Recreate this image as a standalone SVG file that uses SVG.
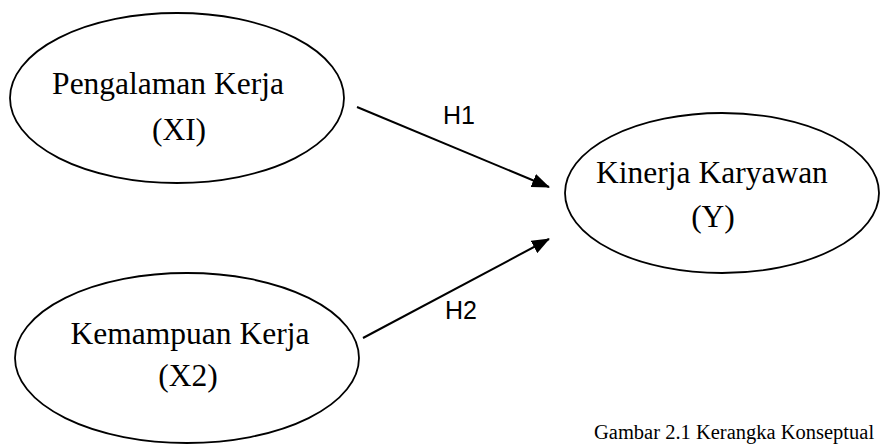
<svg xmlns="http://www.w3.org/2000/svg" width="880" height="445" viewBox="0 0 880 445">
<style>
  .node ellipse { fill: #ffffff; stroke: #000000; stroke-width: 1.8; }
  .lbl { font-family: "Liberation Serif", "Times New Roman", serif; font-size: 31.5px; fill: #000000; text-anchor: middle; }
  .hyp { font-family: "Liberation Sans", Arial, sans-serif; font-size: 25px; fill: #000000; }
  .cap { font-family: "Liberation Serif", "Times New Roman", serif; font-size: 20.5px; fill: #000000; }
  .conn line { stroke: #000000; stroke-width: 2; }
</style>
<defs>
  <marker id="arrow" markerUnits="userSpaceOnUse" markerWidth="18" markerHeight="14" viewBox="0 0 18 14" refX="17" refY="7" orient="auto">
    <path d="M0,0 L18,7 L0,14 Z" fill="#000000"/>
  </marker>
</defs>
<rect width="880" height="445" fill="#ffffff"/>
<g id="node-pengalaman" class="node">
  <ellipse cx="177" cy="98" rx="167" ry="85"/>
  <text class="lbl" x="168" y="94">Pengalaman Kerja</text>
  <text class="lbl" x="179" y="140">(XI)</text>
</g>
<g id="node-kemampuan" class="node">
  <ellipse cx="187" cy="358" rx="172" ry="85"/>
  <text class="lbl" x="190" y="344">Kemampuan Kerja</text>
  <text class="lbl" x="188" y="386">(X2)</text>
</g>
<g id="node-kinerja" class="node">
  <ellipse cx="722" cy="193" rx="157" ry="80"/>
  <text class="lbl" x="712" y="183">Kinerja Karyawan</text>
  <text class="lbl" x="713" y="227">(Y)</text>
</g>
<g id="connectors" class="conn">
  <line x1="357" y1="107" x2="549" y2="187" marker-end="url(#arrow)"/>
  <line x1="363" y1="338" x2="549" y2="239" marker-end="url(#arrow)"/>
  <text class="hyp" x="443" y="124">H1</text>
  <text class="hyp" x="445" y="319">H2</text>
</g>
<text class="cap" x="594" y="439">Gambar 2.1 Kerangka Konseptual</text>
</svg>
